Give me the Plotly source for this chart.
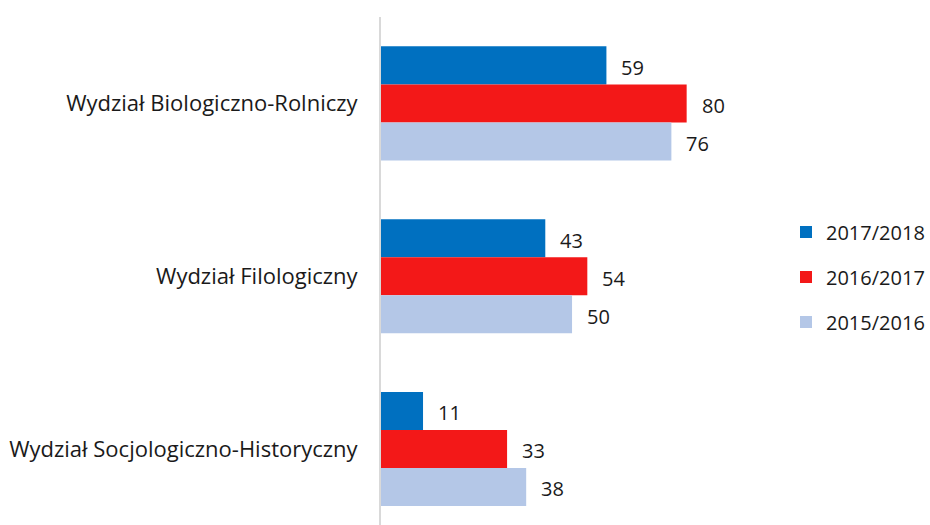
import plotly.graph_objects as go

categories = ["Wydział Biologiczno-Rolniczy", "Wydział Filologiczny", "Wydział Socjologiczno-Historyczny"]
series_names = ["2017/2018", "2016/2017", "2015/2016"]
values_2017_2018 = [59, 43, 11]
values_2016_2017 = [80, 54, 33]
values_2015_2016 = [76, 50, 38]
colors = ["#0070C0", "#F31818", "#B4C7E7"]

FONT = "Open Sans"
TXT = "#1a1a1a"
all_values = [values_2017_2018, values_2016_2017, values_2015_2016]

BARGAP = 0.34
n = len(series_names)
bw = (1 - BARGAP) / n

fig = go.Figure()
for i, (name, vals, col) in enumerate(zip(series_names, all_values, colors)):
    fig.add_trace(go.Bar(
        y=categories, x=vals, name=name, orientation="h",
        marker=dict(color=col, line=dict(width=0)),
        legendgroup=name,
    ))
    for ci, v in enumerate(vals):
        fig.add_annotation(
            x=v, y=ci + (i - (n - 1) / 2) * bw, text=str(v),
            xref="x", yref="y", showarrow=False,
            xanchor="left", yanchor="middle", xshift=13, yshift=-2,
            font=dict(family=FONT, size=20, color=TXT),
        )

fig.update_layout(
    width=930, height=525,
    margin=dict(l=381, r=140, t=17, b=0),
    paper_bgcolor="white", plot_bgcolor="white",
    barmode="group", bargap=BARGAP, bargroupgap=0,
    font=dict(family=FONT, size=20, color=TXT),
    xaxis=dict(range=[0, 106], visible=False, showgrid=False, zeroline=False),
    yaxis=dict(range=[2.44, -0.5], showgrid=False, zeroline=False,
               showline=True, linecolor="#D9D9D9", linewidth=2,
               ticks="", ticklabelstandoff=17,
               tickfont=dict(family=FONT, size=22, color=TXT)),
    legend=dict(xref="container", yref="container", x=786 / 930, y=1 - 277 / 525,
                xanchor="left", yanchor="middle",
                font=dict(family=FONT, size=20, color=TXT),
                itemwidth=30, tracegroupgap=16, traceorder="grouped",
                bgcolor="rgba(0,0,0,0)"),
    showlegend=True,
)

fig.write_html("out.html", config={"displayModeBar": False},
               post_script="document.body.style.margin='0';document.body.style.padding='0';")
